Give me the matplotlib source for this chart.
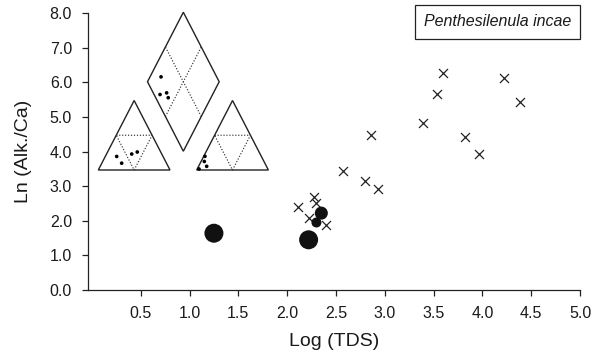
import numpy as np
import matplotlib
matplotlib.use("Agg")
import matplotlib.pyplot as plt
from matplotlib.patches import Rectangle, Polygon

plt.rcParams['font.family'] = ['Liberation Sans', 'DejaVu Sans']

# ---- Water chemistry of sampled sites (crosses) ----
tds_sites = [3.60, 4.22, 3.54, 4.39, 3.39, 2.86, 3.82, 3.97,
             2.57, 2.80, 2.93, 2.27, 2.30, 2.11, 2.22, 2.40]
alk_sites = [6.26, 6.12, 5.66, 5.44, 4.82, 4.47, 4.43, 3.93,
             3.45, 3.16, 2.91, 2.70, 2.51, 2.41, 2.07, 1.88]

# ---- Sites where the species occurs (filled circles, area ~ abundance) ----
tds_occ = [1.25, 2.22, 2.35, 2.30]
alk_occ = [1.64, 1.45, 2.22, 1.95]
abundance = [3.6, 3.6, 1.7, 1.0]

# ---- Piper diagram of the occurrence sites ----
# cation fractions
cat_ca = [0.646, 0.625, 0.419, 0.327]
cat_mg = [0.195, 0.098, 0.230, 0.259]
cat_na = [0.159, 0.277, 0.351, 0.414]
# anion fractions
an_hco3 = [0.960, 0.786, 0.832, 0.834]
an_so4 = [0.015, 0.197, 0.123, 0.053]
an_cl = [0.025, 0.017, 0.045, 0.113]
# diamond field: Na+K share and SO4+Cl share
dia_na = [0.224, 0.083, 0.187, 0.174]
dia_so4cl = [0.846, 0.733, 0.653, 0.596]

x_ticks = [0.5, 1.0, 1.5, 2.0, 2.5, 3.0, 3.5, 4.0, 4.5, 5.0]
y_ticks = [0, 1, 2, 3, 4, 5, 6, 7, 8]

W, H = 603, 360
fig = plt.figure(figsize=(W / 100, H / 100), dpi=100)


def fig_rect(x0, y0, x1, y1):
    """Pixel box (top-left origin) -> figure-fraction [l, b, w, h]."""
    return [x0 / W, 1 - y1 / H, (x1 - x0) / W, (y1 - y0) / H]


ink = '#222222'
ax = fig.add_axes(fig_rect(88, 13, 580, 290))
ax.set_xlim(-0.04, 5.0)
ax.set_ylim(0, 8.0)
for s in ('top', 'right'):
    ax.spines[s].set_visible(False)
for s in ('left', 'bottom'):
    ax.spines[s].set_color(ink)
    ax.spines[s].set_linewidth(0.9)

ax.set_xticks(x_ticks)
ax.set_xticklabels([f"{v:.1f}" for v in x_ticks])
ax.set_yticks(y_ticks)
ax.set_yticklabels([f"{v:.1f}" for v in y_ticks])
ax.tick_params(axis='both', direction='out', length=4.5, width=0.9,
               colors=ink, labelsize=11.5, labelcolor='#1a1a1a')
ax.tick_params(axis='x', pad=7)
ax.tick_params(axis='y', pad=7)

ax.set_xlabel('Log (TDS)', fontsize=14, color='#1a1a1a', labelpad=9)
ax.set_ylabel('Ln (Alk./Ca)', fontsize=14, color='#1a1a1a', labelpad=13)

ax.scatter(tds_sites, alk_sites, marker='x', s=42, linewidths=0.9,
           color=ink, zorder=3)
ax.scatter(tds_occ, alk_occ, s=[52 * a for a in abundance],
           color='#111111', edgecolors='none', zorder=4)

# species label box
fig.patches.append(Rectangle((415 / W, 1 - 39 / H), 165 / W, 34 / H,
                             transform=fig.transFigure, fill=False,
                             edgecolor=ink, linewidth=0.9))
fig.text(497.5 / W, 1 - 22 / H, 'Penthesilenula incae', style='italic',
         fontsize=11.5, ha='center', va='center', color='#1a1a1a')

# ---- Piper inset ----
GAP = 0.372      # gap between the two ternary triangles (triangle width = 1)
DIA_BASE = 0.27  # height of the diamond's lower vertex above the bases
PAD = 0.1
SX, SY = 71.7, 69.5   # pixels per inset unit
OX, OY = 98.3, 170.0  # pixel position of the inset origin
x_hi = 2 + GAP
y_hi = DIA_BASE + 2
pax = fig.add_axes(fig_rect(OX - PAD * SX, OY - (y_hi + PAD) * SY,
                            OX + (x_hi + PAD) * SX, OY + PAD * SY))
pax.set_xlim(-PAD, x_hi + PAD)
pax.set_ylim(-PAD, y_hi + PAD)
pax.axis('off')

solid = dict(color=ink, linewidth=1.0)
dotted = dict(color='#333333', linewidth=0.85, linestyle=(0, (1, 1.5)))


def ternary(right, top, x0):
    right = np.asarray(right)
    top = np.asarray(top)
    return x0 + right + top / 2, top


def draw_triangle(x0):
    pax.add_patch(Polygon([(x0, 0), (x0 + 1, 0), (x0 + 0.5, 1)],
                          closed=True, fill=False, **solid))
    mids = np.array([[x0 + 0.25, 0.5], [x0 + 0.75, 0.5], [x0 + 0.5, 0],
                     [x0 + 0.25, 0.5]])
    pax.plot(mids[:, 0], mids[:, 1], **dotted)


draw_triangle(0.0)
draw_triangle(1 + GAP)

cx = 1 + GAP / 2
B = np.array([cx, DIA_BASE])
R = np.array([cx + 0.5, DIA_BASE + 1])
L = np.array([cx - 0.5, DIA_BASE + 1])
T = np.array([cx, DIA_BASE + 2])


def diamond(u, v):
    u = np.asarray(u)[:, None]
    v = np.asarray(v)[:, None]
    p = B + u * (R - B) + v * (L - B)
    return p[:, 0], p[:, 1]


pax.add_patch(Polygon([B, R, T, L], closed=True, fill=False, **solid))
for a, b in (([0.5, 0.5], [0, 1]), ([0, 1], [0.5, 0.5])):
    px, py = diamond(a, b)
    pax.plot(px, py, **dotted)

dot = dict(s=7, color='black', edgecolors='none', zorder=5, clip_on=False)
pax.scatter(*ternary(cat_na, cat_mg, 0.0), **dot)
pax.scatter(*ternary(an_cl, an_so4, 1 + GAP), **dot)
pax.scatter(*diamond(dia_na, dia_so4cl), **dot)

fig.savefig('out.png', dpi=100)
